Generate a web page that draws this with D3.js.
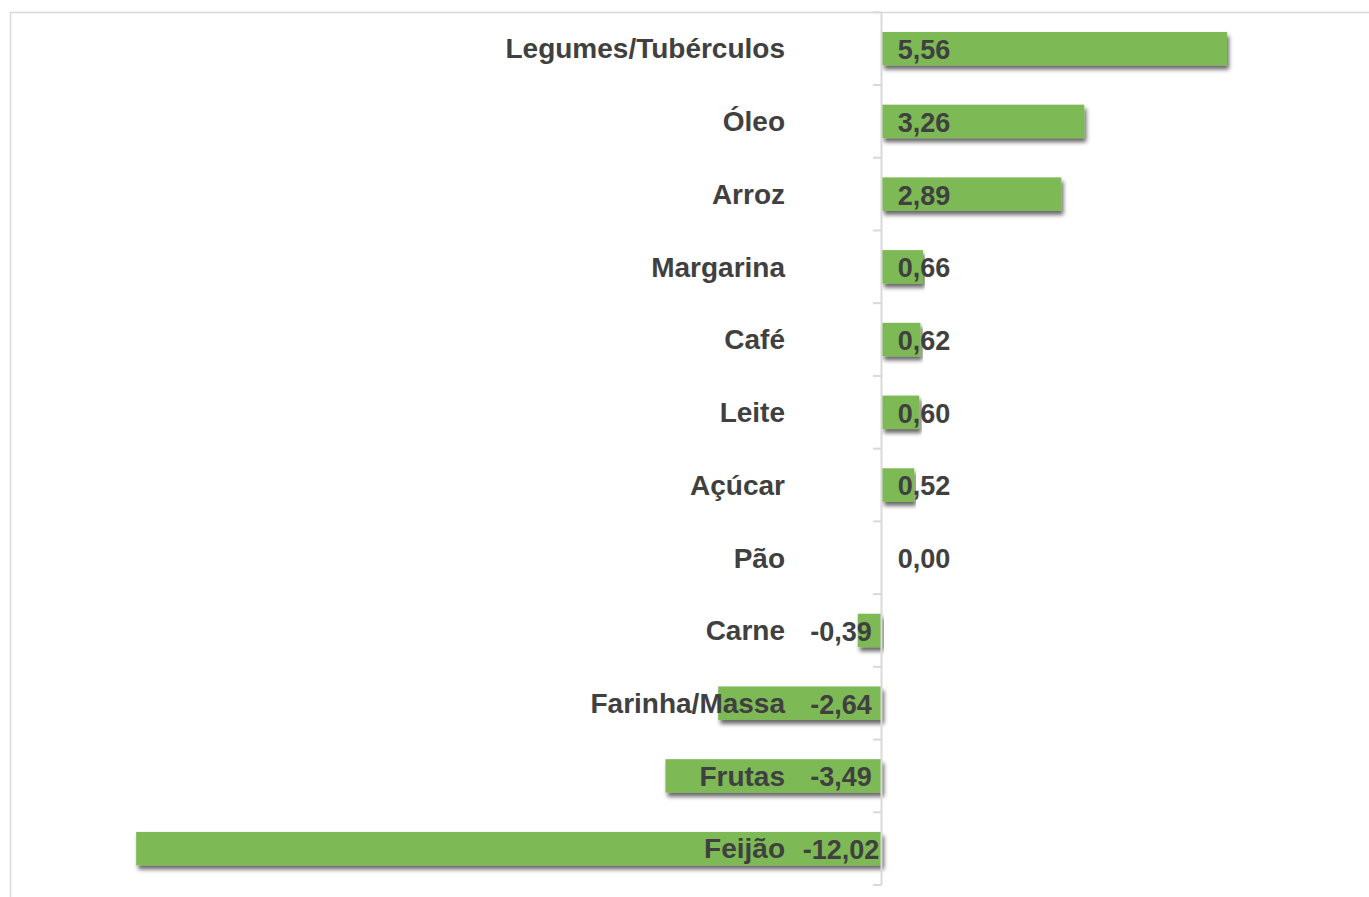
<!DOCTYPE html>
<html>
<head>
<meta charset="utf-8">
<script src="https://cdn.jsdelivr.net/npm/d3@7"></script>
<style>
  html, body { margin: 0; padding: 0; background: #fff; }
  svg { display: block; }
  text { font-family: "Liberation Sans", Arial, sans-serif; font-weight: bold; }
</style>
</head>
<body>
<svg width="1369" height="897"></svg>
<script>
const categories = ["Legumes/Tubérculos", "Óleo", "Arroz", "Margarina", "Café", "Leite",
  "Açúcar", "Pão", "Carne", "Farinha/Massa", "Frutas", "Feijão"];
const values = [5.56, 3.26, 2.89, 0.66, 0.62, 0.60, 0.52, 0.00, -0.39, -2.64, -3.49, -12.02];

const svg = d3.select("svg");
const pxPerUnit = 62.05;
const zeroX = 882;
const plotTop = 12.3, plotBottom = 885;

const defs = svg.append("defs");
defs.append("filter")
  .attr("id", "shadow")
  .attr("x", "-5%").attr("y", "-50%").attr("width", "110%").attr("height", "200%")
  .append("feDropShadow")
  .attr("dx", 2).attr("dy", 4).attr("stdDeviation", 2.2)
  .attr("flood-color", "#000").attr("flood-opacity", 0.6);

// chart border
svg.append("rect")
  .attr("x", 10.5).attr("y", 12.5)
  .attr("width", 1500).attr("height", 1000)
  .attr("fill", "none").attr("stroke", "#d9d9d9").attr("stroke-width", 1.5);

const x = d3.scaleLinear()
  .domain([-14, 8])
  .range([zeroX - 14 * pxPerUnit, zeroX + 8 * pxPerUnit]);

const y = d3.scaleBand()
  .domain(categories)
  .range([plotTop, plotBottom])
  .paddingInner(0.54)
  .paddingOuter(0.27);

const step = y.step();
const boundaries = d3.range(categories.length + 1).map(i => plotTop + i * step);

// bars
svg.append("g").selectAll("rect")
  .data(values)
  .join("rect")
  .attr("x", d => x(Math.min(0, d)))
  .attr("y", (d, i) => y(categories[i]))
  .attr("width", d => Math.abs(x(d) - x(0)))
  .attr("height", y.bandwidth())
  .attr("fill", "#7dba55")
  .attr("filter", d => d === 0 ? null : "url(#shadow)");

// axis line and ticks
const axis = svg.append("g").attr("stroke", "#d9d9d9").attr("stroke-width", 2);
axis.append("line")
  .attr("x1", x(0) - 0.5).attr("x2", x(0) - 0.5)
  .attr("y1", plotTop).attr("y2", plotBottom);
axis.selectAll(".tick")
  .data(boundaries)
  .join("line")
  .attr("class", "tick")
  .attr("x1", x(0) - 9).attr("x2", x(0) - 0.5)
  .attr("y1", d => d).attr("y2", d => d);

// category labels
svg.append("g").selectAll("text")
  .data(categories)
  .join("text")
  .attr("x", 785)
  .attr("y", d => y(d) + y.bandwidth() / 2)
  .attr("dy", "0.35em")
  .attr("text-anchor", "end")
  .attr("font-size", 28)
  .attr("fill", "#404040")
  .text(d => d);

// value labels
const fmt = v => v.toFixed(2).replace(".", ",");
svg.append("g").selectAll("text")
  .data(values)
  .join("text")
  .attr("x", d => d < 0 ? x(0) - 41 : x(0) + 42)
  .attr("y", (d, i) => y(categories[i]) + y.bandwidth() / 2 + 1)
  .attr("dy", "0.35em")
  .attr("text-anchor", "middle")
  .attr("font-size", 27)
  .attr("fill", "#404040")
  .text(d => fmt(d));
</script>
</body>
</html>
